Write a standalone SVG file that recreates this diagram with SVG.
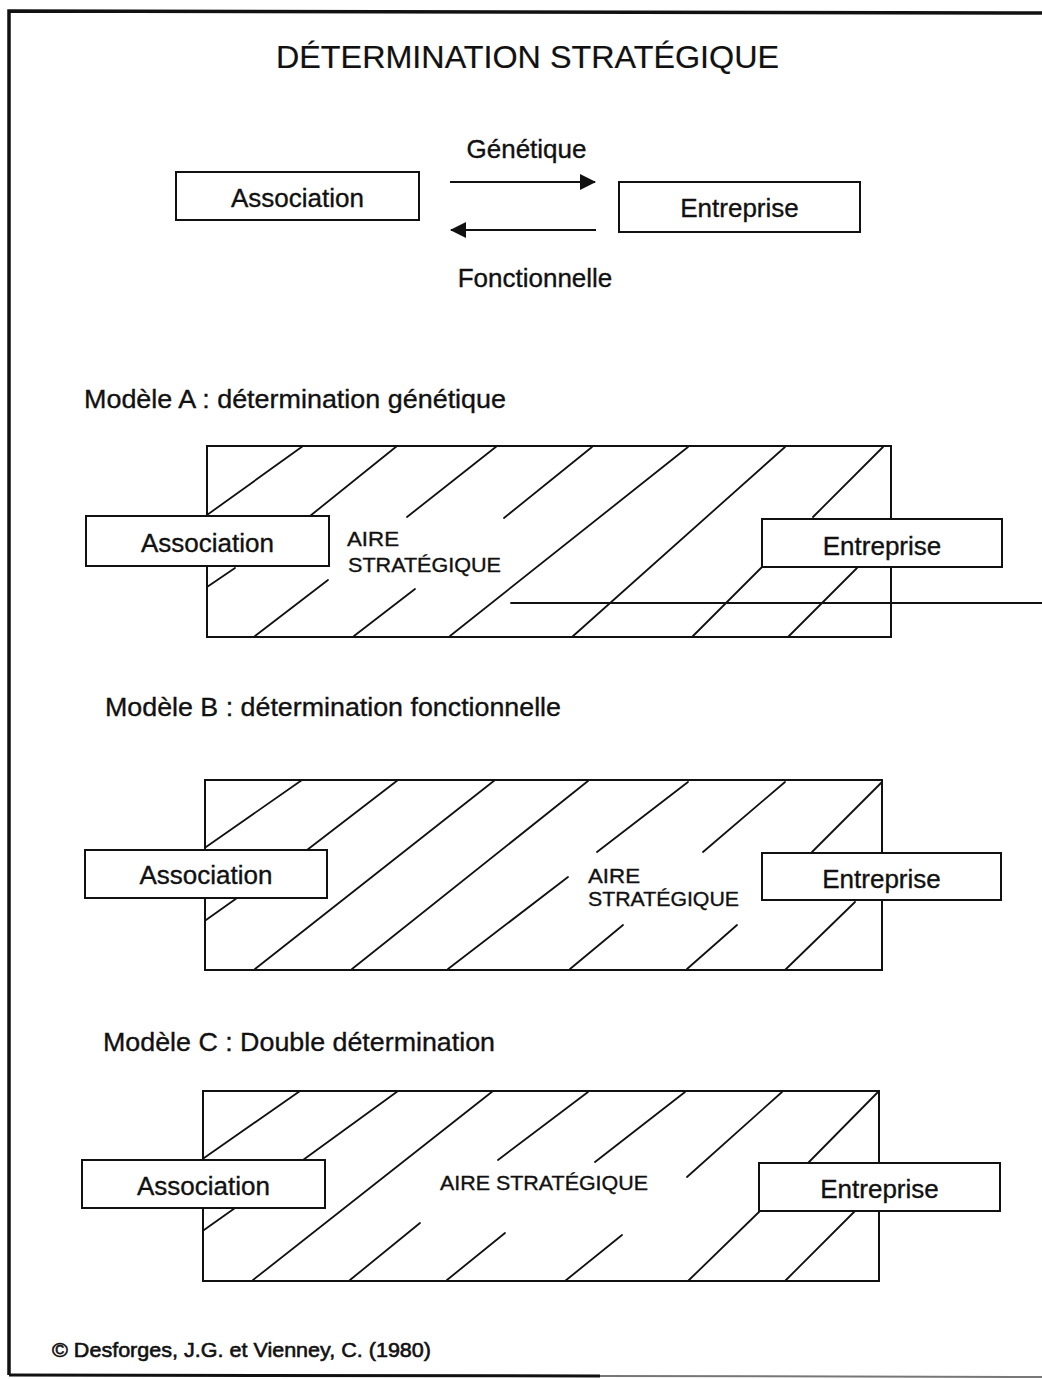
<svg xmlns="http://www.w3.org/2000/svg" width="1042" height="1379" viewBox="0 0 1042 1379">
<style>
text{font-family:"Liberation Sans",Arial,sans-serif;fill:#111;stroke:#111;stroke-width:0.35}
.box{fill:#fff;stroke:#111;stroke-width:2}
.area{fill:#fff;stroke:#111;stroke-width:2}
.h{stroke:#111;stroke-width:1.8;fill:none;stroke-linecap:round}
.lbl{font-size:26px;text-anchor:middle}
.aire{font-size:20px}
.conn{stroke:#111;stroke-width:2.2;fill:none}
</style>
<defs>
<marker id="ah" viewBox="0 0 16 16" refX="15" refY="8" markerWidth="16" markerHeight="16" markerUnits="userSpaceOnUse" orient="auto">
<path d="M0,0 L16,8 L0,16 Z" fill="#111"/>
</marker>
</defs>
<rect width="1042" height="1379" fill="#fff"/>
<g id="frame">
<path d="M1042,13 L9,11 L9,1375" stroke="#111" stroke-width="3.5" fill="none"/>
<path d="M9,1375 L600,1376" stroke="#111" stroke-width="3" fill="none"/>
<path d="M600,1376 L1042,1377" stroke="#777" stroke-width="2" fill="none"/>
</g>
<g id="title"><text x="527.5" y="68" font-size="32" text-anchor="middle" textLength="503" lengthAdjust="spacingAndGlyphs" style="stroke-width:0.2">DÉTERMINATION STRATÉGIQUE</text></g>

<g id="top-association"><rect class="box" x="176" y="172" width="243" height="48"/><text class="lbl" x="297.5" y="207">Association</text></g>
<g id="top-entreprise"><rect class="box" x="619" y="182" width="241" height="50"/><text class="lbl" x="739.5" y="217">Entreprise</text></g>
<g id="connectors">
<line class="conn" x1="450" y1="182" x2="595" y2="182" marker-end="url(#ah)"/>
<line class="conn" x1="596" y1="230" x2="451" y2="230" marker-end="url(#ah)"/>
<text x="526.5" y="158" font-size="26" text-anchor="middle">Génétique</text>
<text x="535" y="287" font-size="26" text-anchor="middle">Fonctionnelle</text>
</g>

<g id="label-a"><text x="84" y="408" font-size="26" textLength="422" lengthAdjust="spacingAndGlyphs">Modèle A : détermination génétique</text></g>
<g id="aire-a">
<rect class="area" x="207" y="446" width="684" height="191"/>
<path class="h" d="M303,446 L207,515 M397,446 L310,516 M235,568 L207,587 M497,446 L407,517 M328,580 L255,636 M592,447 L504,518 M415,589 L354,636 M688,447 L450,636 M785,447 L572,637 M883,447 L813,517 M762,567 L692,637 M857,568 L788,637"/>
<line class="h" x1="511" y1="603" x2="1042" y2="603"/>
<text class="aire" x="347" y="546" textLength="52" lengthAdjust="spacingAndGlyphs">AIRE</text>
<text class="aire" x="348" y="571.5" textLength="153" lengthAdjust="spacingAndGlyphs">STRATÉGIQUE</text>
</g>
<g id="assoc-a"><rect class="box" x="86" y="516" width="243" height="50"/><text class="lbl" x="207.5" y="552">Association</text></g>
<g id="entr-a"><rect class="box" x="762" y="519" width="240" height="48"/><text class="lbl" x="882" y="555">Entreprise</text></g>

<g id="label-b"><text x="105" y="716" font-size="26" textLength="456" lengthAdjust="spacingAndGlyphs">Modèle B : détermination fonctionnelle</text></g>
<g id="aire-b">
<rect class="area" x="205" y="780" width="677" height="190"/>
<path class="h" d="M302,780 L206,847 M398,780 L307,850 M237,898 L206,920 M495,780 L255,969 M588,781 L352,969 M688,782 L597,852 M568,877 L448,969 M785,782 L703,852 M623,925 L570,969 M882,782 L812,852 M737,925 L687,969 M855,902 L785,970"/>
<text class="aire" x="588" y="883" textLength="52" lengthAdjust="spacingAndGlyphs">AIRE</text>
<text class="aire" x="588" y="906" textLength="151" lengthAdjust="spacingAndGlyphs">STRATÉGIQUE</text>
</g>
<g id="assoc-b"><rect class="box" x="85" y="850" width="242" height="48"/><text class="lbl" x="206" y="884">Association</text></g>
<g id="entr-b"><rect class="box" x="762" y="853" width="239" height="47"/><text class="lbl" x="881.5" y="888">Entreprise</text></g>

<g id="label-c"><text x="103" y="1051" font-size="26" textLength="392" lengthAdjust="spacingAndGlyphs">Modèle C : Double détermination</text></g>
<g id="aire-c">
<rect class="area" x="203" y="1091" width="676" height="190"/>
<path class="h" d="M300,1091 L204,1158 M398,1091 L303,1160 M235,1208 L204,1230 M493,1091 L253,1280 M588,1092 L498,1160 M420,1223 L350,1280 M685,1092 L595,1162 M505,1233 L447,1280 M782,1092 L687,1177 M622,1235 L565,1281 M878,1092 L808,1163 M760,1211 L688,1281 M855,1211 L785,1281"/>
<text class="aire" x="440" y="1190" textLength="208" lengthAdjust="spacingAndGlyphs">AIRE STRATÉGIQUE</text>
</g>
<g id="assoc-c"><rect class="box" x="82" y="1160" width="243" height="48"/><text class="lbl" x="203.5" y="1195">Association</text></g>
<g id="entr-c"><rect class="box" x="759" y="1163" width="241" height="48"/><text class="lbl" x="879.5" y="1198">Entreprise</text></g>

<g id="footer"><text x="52" y="1357" font-size="21" textLength="379" lengthAdjust="spacingAndGlyphs" style="stroke-width:0.6">© Desforges, J.G. et Vienney, C. (1980)</text></g>
</svg>
